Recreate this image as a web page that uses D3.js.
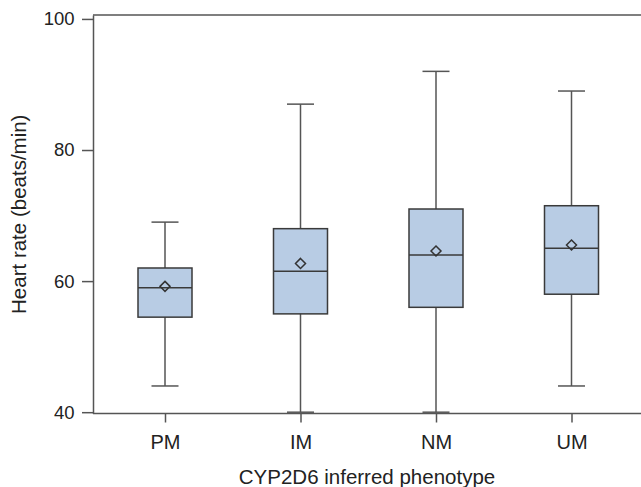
<!DOCTYPE html>
<html>
<head>
<meta charset="utf-8">
<script src="https://cdn.jsdelivr.net/npm/d3@7"></script>
<style>
  body { margin: 0; background: #fff; }
  svg text { font-family: "Liberation Sans", Arial, sans-serif; fill: #222; }
</style>
</head>
<body>
<div id="chart"></div>
<script>
// phenotype groups and box statistics (beats/min)
var categories = ['PM', 'IM', 'NM', 'UM'];
var whiskerLow = [44, 40, 40, 44];
var q1 = [54.5, 55, 56, 58];
var median = [59, 61.5, 64, 65];
var q3 = [62, 68, 71, 71.5];
var whiskerHigh = [69, 87, 92, 89];
var mean = [59.2, 62.7, 64.6, 65.5];
var yTicks = [40, 60, 80, 100];

var width = 641, height = 487;
var plotLeft = 93, plotTop = 15, plotBottom = 413.5;

var svg = d3.select('#chart')
    .append('svg')
    .attr('width', width)
    .attr('height', height);

var x = d3.scalePoint()
    .domain(categories)
    .range([165, 571.5]);

var y = d3.scaleLinear()
    .domain([39.8, 100.6])
    .range([plotBottom, plotTop]);

var boxes = categories.map(function (c, i) {
    return { cat: c, lo: whiskerLow[i], q1: q1[i], med: median[i], q3: q3[i], hi: whiskerHigh[i], mean: mean[i] };
});

// y axis
var yAxis = svg.append('g')
    .attr('transform', 'translate(' + plotLeft + ',0)')
    .call(d3.axisLeft(y).tickValues(yTicks).tickSize(11).tickPadding(7.5).tickSizeOuter(0));
yAxis.select('.domain').attr('stroke', '#555').attr('stroke-width', 1.5);
yAxis.selectAll('.tick line').attr('stroke', '#555').attr('stroke-width', 1.5);
yAxis.selectAll('.tick text').attr('font-size', 18.5).attr('fill', '#222');

// x axis
var xAxis = svg.append('g')
    .attr('transform', 'translate(0,' + plotBottom + ')')
    .call(d3.axisBottom(x).tickSize(9).tickPadding(12).tickSizeOuter(0));
xAxis.select('.domain').remove();
xAxis.selectAll('.tick line').attr('stroke', '#555').attr('stroke-width', 1.5);
xAxis.selectAll('.tick text').attr('font-size', 20).attr('fill', '#222');

// frame lines: bottom and top
svg.append('line')
    .attr('x1', plotLeft).attr('x2', width)
    .attr('y1', plotBottom).attr('y2', plotBottom)
    .attr('stroke', '#555').attr('stroke-width', 1.5);
svg.append('line')
    .attr('x1', plotLeft).attr('x2', width)
    .attr('y1', plotTop).attr('y2', plotTop)
    .attr('stroke', '#555').attr('stroke-width', 1.5);

var boxW = 54, capW = 27;

var g = svg.selectAll('.box')
    .data(boxes)
    .enter().append('g')
    .attr('class', 'box');

// whiskers
g.append('line')
    .attr('x1', function (d) { return x(d.cat); })
    .attr('x2', function (d) { return x(d.cat); })
    .attr('y1', function (d) { return y(d.lo); })
    .attr('y2', function (d) { return y(d.hi); })
    .attr('stroke', '#555').attr('stroke-width', 1.5);
g.append('line')
    .attr('x1', function (d) { return x(d.cat) - capW / 2; })
    .attr('x2', function (d) { return x(d.cat) + capW / 2; })
    .attr('y1', function (d) { return y(d.hi); })
    .attr('y2', function (d) { return y(d.hi); })
    .attr('stroke', '#555').attr('stroke-width', 1.5);
g.append('line')
    .attr('x1', function (d) { return x(d.cat) - capW / 2; })
    .attr('x2', function (d) { return x(d.cat) + capW / 2; })
    .attr('y1', function (d) { return y(d.lo); })
    .attr('y2', function (d) { return y(d.lo); })
    .attr('stroke', '#555').attr('stroke-width', 1.5);

// box
g.append('rect')
    .attr('x', function (d) { return x(d.cat) - boxW / 2; })
    .attr('y', function (d) { return y(d.q3); })
    .attr('width', boxW)
    .attr('height', function (d) { return y(d.q1) - y(d.q3); })
    .attr('fill', '#b8cce4')
    .attr('stroke', '#3a3a3a').attr('stroke-width', 1.5);

// median
g.append('line')
    .attr('x1', function (d) { return x(d.cat) - boxW / 2; })
    .attr('x2', function (d) { return x(d.cat) + boxW / 2; })
    .attr('y1', function (d) { return y(d.med); })
    .attr('y2', function (d) { return y(d.med); })
    .attr('stroke', '#3a3a3a').attr('stroke-width', 1.5);

// mean diamond
g.append('path')
    .attr('d', function (d) {
        var cx = x(d.cat), cy = y(d.mean), r = 5;
        return 'M' + cx + ',' + (cy - r) + 'L' + (cx + r) + ',' + cy +
            'L' + cx + ',' + (cy + r) + 'L' + (cx - r) + ',' + cy + 'Z';
    })
    .attr('fill', 'none')
    .attr('stroke', '#333').attr('stroke-width', 1.5);

// axis titles
svg.append('text')
    .attr('x', 367)
    .attr('y', 484)
    .attr('text-anchor', 'middle')
    .attr('font-size', 20.5)
    .text('CYP2D6 inferred phenotype');

svg.append('text')
    .attr('transform', 'translate(26,' + (plotTop + plotBottom) / 2 + ') rotate(-90)')
    .attr('text-anchor', 'middle')
    .attr('font-size', 20.5)
    .text('Heart rate (beats/min)');
</script>
</body>
</html>
